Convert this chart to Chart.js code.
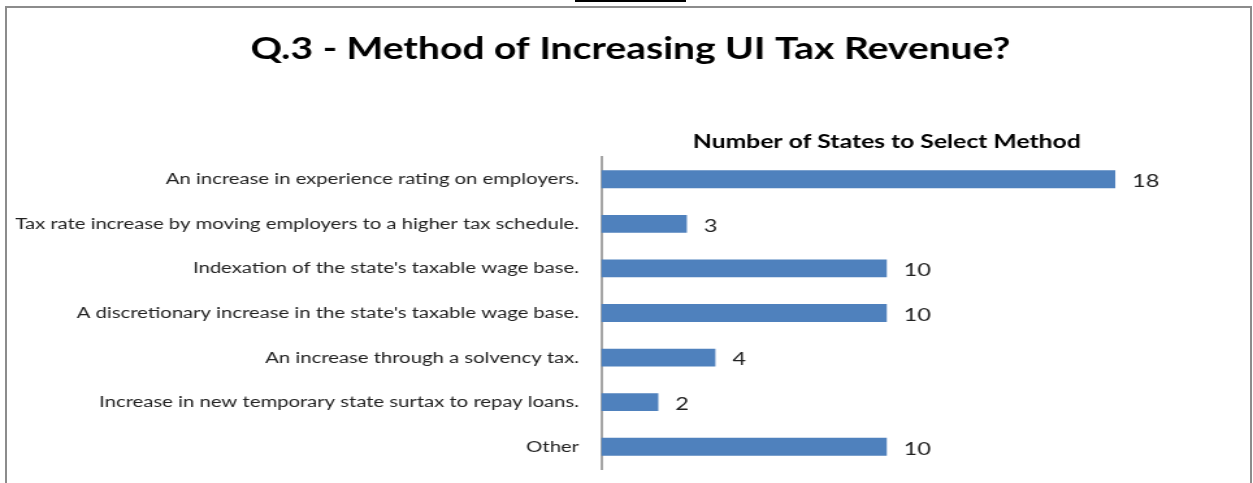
<!DOCTYPE html>
<html>
<head>
<meta charset="utf-8">
<script src="https://cdn.jsdelivr.net/npm/chart.js@4/dist/chart.umd.min.js"></script>
<style>
  html, body { margin: 0; padding: 0; background: #fff; }
  #wrap { position: relative; width: 1253px; height: 483px; overflow: hidden; }
  #frame { position: absolute; left: 5px; top: 6px; width: 1247px; height: 500px;
           border: 2px solid #8c8c8c; box-sizing: border-box; }
  #rule { position: absolute; left: 575px; top: 0; width: 111px; height: 2px; background: #000; }
  /* the chart is laid out on a narrower canvas and widened, giving the broad lettering */
  #stretch { position: absolute; left: 0; top: 0; width: 964px; height: 483px;
             transform: scaleX(1.2998); transform-origin: 0 0; }
  canvas { position: absolute; left: 0; top: 0; }
</style>
</head>
<body>
<div id="wrap">
  <div id="rule"></div>
  <div id="frame"></div>
  <div id="stretch"><canvas id="c" width="964" height="483"></canvas></div>
</div>
<script>
const chartTitle = 'Q.3 - Method of Increasing UI Tax Revenue?';
const axisTitle = 'Number of States to Select Method';
const methods = [
  'An increase in experience rating on employers.',
  'Tax rate increase by moving employers to a higher tax schedule.',
  "Indexation of the state's taxable wage base.",
  "A discretionary increase in the state's taxable wage base.",
  'An increase through a solvency tax.',
  'Increase in new temporary state surtax to repay loans.',
  'Other'
];
const stateCounts = [18, 3, 10, 10, 4, 2, 10];

// Writes each bar's count just past the end of the bar
const valueLabels = {
  id: 'valueLabels',
  afterDatasetsDraw(chart) {
    const ctx = chart.ctx;
    const meta = chart.getDatasetMeta(0);
    ctx.save();
    ctx.font = '18px Lato';
    ctx.fillStyle = '#222';
    ctx.textAlign = 'left';
    ctx.textBaseline = 'middle';
    meta.data.forEach((bar, i) => {
      ctx.fillText(String(stateCounts[i]), bar.x + 13, bar.y + 2);
    });
    ctx.restore();
  }
};

// Long category names run left of the axis box; widen its label clip to the canvas edge
const fullLabelArea = {
  id: 'fullLabelArea',
  afterLayout(chart) {
    chart.scales.y.left = 0;
  }
};

new Chart(document.getElementById('c'), {
  type: 'bar',
  data: {
    labels: methods,
    datasets: [{
      data: stateCounts,
      backgroundColor: '#4F81BD',
      borderWidth: 0,
      categoryPercentage: 1,
      barPercentage: 0.4
    }]
  },
  options: {
    indexAxis: 'y',
    responsive: false,
    animation: false,
    devicePixelRatio: 1,
    layout: { padding: { left: 68, right: 62, top: 0, bottom: 14 } },
    plugins: {
      legend: { display: false },
      tooltip: { enabled: false },
      title: {
        display: true,
        text: chartTitle,
        color: '#000',
        font: { family: 'Lato', size: 30, weight: 'bold', lineHeight: 1.2 },
        padding: { top: 31, bottom: 60 }
      }
    },
    scales: {
      x: {
        position: 'top',
        min: 0,
        max: 20,
        ticks: { display: false },
        grid: { display: false, drawTicks: false },
        border: { display: false },
        title: {
          display: true,
          text: axisTitle,
          color: '#000',
          font: { family: 'Lato', size: 19, weight: 'bold', lineHeight: 1.2 },
          padding: { top: 3, bottom: 0 }
        },
        afterFit(scale) { scale.height = 30; }
      },
      y: {
        ticks: {
          color: '#222',
          font: { family: 'Lato', size: 15.6 },
          padding: 17,
          autoSkip: false
        },
        grid: { display: false, drawTicks: false },
        border: { display: true, color: '#a6a6a6', width: 2 },
        afterFit(scale) {
          scale.width = 394.5;
          scale.paddingTop = 0;
          scale.paddingBottom = 0;
        }
      }
    }
  },
  plugins: [valueLabels, fullLabelArea]
});
</script>
</body>
</html>
